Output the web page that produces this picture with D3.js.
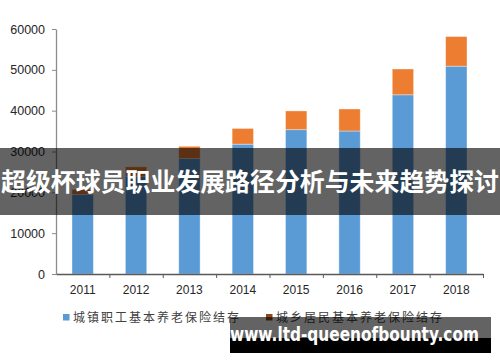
<!DOCTYPE html>
<html>
<head>
<meta charset="utf-8">
<script src="https://cdn.jsdelivr.net/npm/d3@7/dist/d3.min.js"></script>
<style>
  html, body { margin: 0; padding: 0; background: #fff; }
  svg { display: block; }
</style>
</head>
<body>
<div id="chart"></div>
<script>
// chart data
var years = ["2011", "2012", "2013", "2014", "2015", "2016", "2017", "2018"];
var urbanWorkers = [19497, 23941, 28269, 31800, 35345, 35020, 43885, 50901];
var ruralResidents = [1199, 2302, 3006, 3845, 4592, 5385, 6318, 7250];
var seriesNames = ["城镇职工基本养老保险结存", "城乡居民基本养老保险结存"];
var yTicks = [0, 10000, 20000, 30000, 40000, 50000, 60000];
var bannerTitle = "超级杯球员职业发展路径分析与未来趋势探讨";
var watermark = "www.ltd-queenofbounty.com";

var W = 500, H = 362;
var colors = ["#5b9bd5", "#ed7d31"];

var svg = d3.select("#chart").append("svg")
	.attr("width", W)
	.attr("height", H);

var x = d3.scaleBand()
	.domain(years)
	.range([56, 483])
	.paddingInner(0.6)
	.paddingOuter(0.3);

var y = d3.scaleLinear()
	.domain([0, 60000])
	.range([274, 29]);

var rows = years.map(function(yr, i) {
	return { year: yr, a: urbanWorkers[i], b: ruralResidents[i] };
});
var stacked = d3.stack().keys(["a", "b"])(rows);

// bars
svg.append("g").selectAll("g")
	.data(stacked)
	.join("g")
	.attr("fill", function(d, i) { return colors[i]; })
	.selectAll("rect")
	.data(function(d) { return d; })
	.join("rect")
	.attr("x", function(d) { return x(d.data.year); })
	.attr("width", x.bandwidth())
	.attr("y", function(d) { return y(d[1]); })
	.attr("height", function(d) { return y(d[0]) - y(d[1]); })
	.attr("stroke", "rgba(255,255,255,0.45)")
	.attr("stroke-width", 0.8);

// y axis
var yAxis = svg.append("g")
	.attr("transform", "translate(56,0)")
	.call(d3.axisLeft(y).tickValues(yTicks).tickSize(4).tickSizeOuter(0).tickPadding(7).tickFormat(d3.format("d")));
yAxis.select(".domain").attr("stroke", "#8c8c8c").attr("stroke-width", 1.3);
yAxis.selectAll(".tick line").attr("stroke", "#8c8c8c");
yAxis.selectAll("text")
	.attr("fill", "#262626")
	.style("font-family", "'Liberation Sans', Arial, sans-serif")
	.style("font-size", "12.5px");

// x axis: boundary ticks + labels
var xb = d3.scaleLinear().domain([0, years.length]).range([56, 483]);
var xTicks = svg.append("g")
	.attr("transform", "translate(0,274)")
	.call(d3.axisBottom(xb).ticks(years.length).tickSize(4).tickSizeOuter(0).tickFormat(""));
xTicks.select(".domain").attr("stroke", "#595959").attr("stroke-width", 1.3);
xTicks.selectAll(".tick line").attr("stroke", "#595959");
xTicks.selectAll(".tick").filter(function(d) { return d === 0; }).remove();

var xLabels = svg.append("g")
	.attr("transform", "translate(0,274)")
	.call(d3.axisBottom(x).tickSize(0).tickPadding(11));
xLabels.select(".domain").remove();
xLabels.selectAll("text")
	.attr("fill", "#262626")
	.style("font-family", "'Liberation Sans', Arial, sans-serif")
	.style("font-size", "12px");

// legend
var legendX = [63, 266];
var legendSwatch = ["#5b9bd5", "#8a4a1c"];
var legend = svg.append("g").selectAll("g")
	.data(seriesNames)
	.join("g")
	.attr("transform", function(d, i) { return "translate(" + legendX[i] + ",314)"; });
legend.append("rect")
	.attr("width", 6.5)
	.attr("height", 6.5)
	.attr("fill", function(d, i) { return legendSwatch[i]; });
legend.append("text")
	.attr("x", 10)
	.attr("y", 8)
	.attr("fill", "#404040")
	.attr("textLength", 166)
	.attr("lengthAdjust", "spacing")
	.style("font-family", "'Noto Sans CJK SC', sans-serif")
	.style("font-size", "12px")
	.text(function(d) { return d; });

// title banner overlay
svg.append("rect")
	.attr("x", 0).attr("y", 148)
	.attr("width", W).attr("height", 67)
	.attr("fill", "rgba(0,0,0,0.61)");
svg.append("text")
	.attr("x", W / 2)
	.attr("y", 191)
	.attr("text-anchor", "middle")
	.attr("fill", "#fff")
	.attr("textLength", 498)
	.attr("lengthAdjust", "spacingAndGlyphs")
	.style("font-family", "'Noto Sans CJK SC', sans-serif")
	.style("font-weight", "700")
	.style("font-size", "25px")
	.text(bannerTitle);

// watermark
svg.append("rect")
	.attr("x", 230).attr("y", 317)
	.attr("width", 261).attr("height", 21)
	.attr("fill", "rgba(0,0,0,0.61)");
svg.append("rect")
	.attr("x", 230).attr("y", 338)
	.attr("width", 261).attr("height", 15)
	.attr("fill", "#000");
svg.append("text")
	.attr("x", 230)
	.attr("y", 341)
	.attr("fill", "#fff")
	.attr("textLength", 249)
	.attr("lengthAdjust", "spacingAndGlyphs")
	.style("font-family", "'DejaVu Sans', sans-serif")
	.style("font-weight", "700")
	.style("font-size", "19px")
	.text(watermark);
</script>
</body>
</html>
